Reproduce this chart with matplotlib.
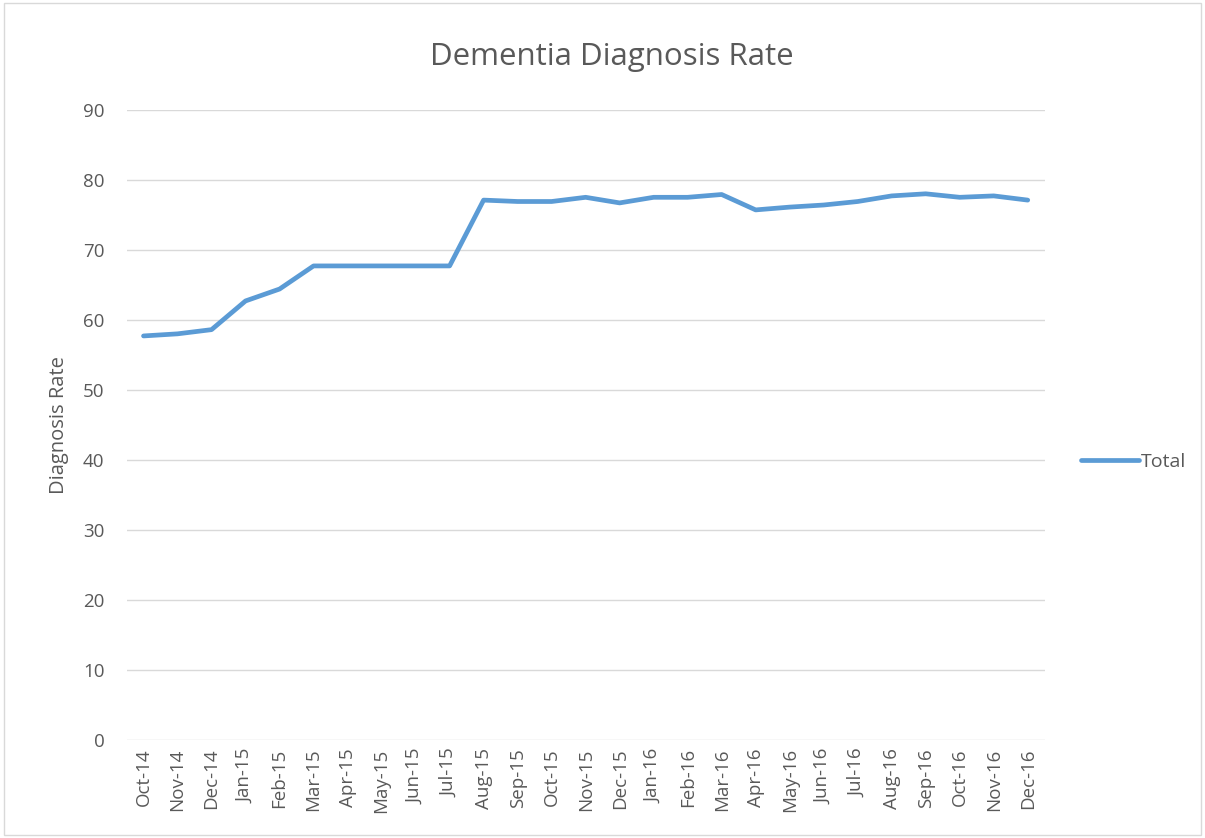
import matplotlib.pyplot as plt

months = ['Oct-14', 'Nov-14', 'Dec-14', 'Jan-15', 'Feb-15', 'Mar-15', 'Apr-15', 'May-15',
          'Jun-15', 'Jul-15', 'Aug-15', 'Sep-15', 'Oct-15', 'Nov-15', 'Dec-15', 'Jan-16',
          'Feb-16', 'Mar-16', 'Apr-16', 'May-16', 'Jun-16', 'Jul-16', 'Aug-16', 'Sep-16',
          'Oct-16', 'Nov-16', 'Dec-16']
total = [57.7, 58.0, 58.6, 62.7, 64.4, 67.7, 67.7, 67.7, 67.7, 67.7, 77.1, 76.9, 76.9,
         77.5, 76.7, 77.5, 77.5, 77.9, 75.7, 76.1, 76.4, 76.9, 77.7, 78.0, 77.5, 77.7, 77.1]
yticks = [0, 10, 20, 30, 40, 50, 60, 70, 80, 90]

plt.rcParams['font.family'] = ['Open Sans', 'DejaVu Sans']
grey = '#595959'

fig = plt.figure(figsize=(12.05, 8.38), dpi=100)
ax = fig.add_axes([0.105, 0.117, 0.762, 0.752])

x = list(range(len(months)))
ax.plot(x, total, color='#5B9BD5', linewidth=3.4, solid_capstyle='round', label='Total')

ax.set_ylim(0, 90)
ax.set_xlim(-0.5, len(months) - 0.5)
ax.set_yticks(yticks)
ax.set_xticks(x)
ax.set_xticklabels(months, rotation=90, fontsize=13.5, color=grey)
ax.tick_params(axis='y', labelsize=13.5, labelcolor=grey, length=0, pad=16)
ax.tick_params(axis='x', length=0, pad=6)
ax.grid(axis='y', color='#d9d9d9', linewidth=1)
ax.set_axisbelow(True)
for s in ax.spines.values():
    s.set_visible(False)

ax.set_ylabel('Diagnosis Rate', fontsize=14.5, color=grey)
ax.yaxis.set_label_coords(-0.063, 0.5)
fig.text(0.508, 0.932, 'Dementia Diagnosis Rate', ha='center', va='center',
         fontsize=22.5, color=grey)

ax.legend(loc='center left', bbox_to_anchor=(1.02, 0.441), frameon=False,
          fontsize=14, labelcolor=grey, handlelength=3.0, handletextpad=0.1)

# chart border
fig.patches.append(plt.Rectangle((0.003, 0.003), 0.994, 0.994, transform=fig.transFigure,
                                 fill=False, edgecolor='#d9d9d9', linewidth=1))

fig.savefig('out.png', dpi=100)
